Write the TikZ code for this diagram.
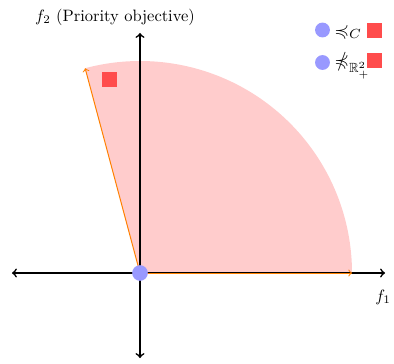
\documentclass[tikz,border=0pt]{standalone}
\usepackage{amssymb}
\newcommand{\nprecc}{\mathrel{\ooalign{$\preccurlyeq$\cr\hidewidth$/$\hidewidth\cr}}}
\begin{document}
\begin{tikzpicture}[x=0.02132cm,y=0.02132cm,
  axis/.style={line width=1pt,<->},
  vec/.style={orange,line width=0.6pt,->},
  pt/.style={circle,fill=blue!40,inner sep=0pt,minimum size=#1},
  sq/.style={rectangle,fill=red!70,inner sep=0pt,minimum size=#1},
  legtext/.style={anchor=base west,inner sep=0pt,scale=1.15}]
\useasboundingbox (-140,-90) rectangle (254,273);
\fill[red!20] (0,0) -- (0:212) arc (0:105:212) -- cycle;
\coordinate (xl) at (-128,0);
\coordinate (xr) at (245,0);
\coordinate (yb) at (0,-85);
\coordinate (yt) at (0,240);
\draw[axis] (xl) -- (xr);
\draw[axis] (yb) -- (yt);
\coordinate (o0) at (0,0);
\coordinate (v1) at (0:212);
\coordinate (v2) at (105:212);
\draw[vec] (o0) -- (v1);
\draw[vec] (o0) -- (v2);
\node[pt=9.5pt] (o) at (o0) {};
\node[sq=9pt] (s) at (-30.5,193.5) {};
\node (f2) at (-25,256) {$f_2$ (Priority objective)};
\node (f1) at (243,-24) {$f_1$};
\node[pt=9pt] (l1c) at (182.5,243) {};
\node[legtext] (l1t) at (194,237) {$\preccurlyeq_C$};
\node[pt=9pt] (l2c) at (182.5,210.5) {};
\node[legtext] (l2t) at (194,206) {$\nprecc_{\mathbb{R}^2_+}$};
\node[sq=9pt] (l1s) at (234.5,242.5) {};
\node[sq=9pt] (l2s) at (234.5,212.5) {};
\end{tikzpicture}
\end{document}
